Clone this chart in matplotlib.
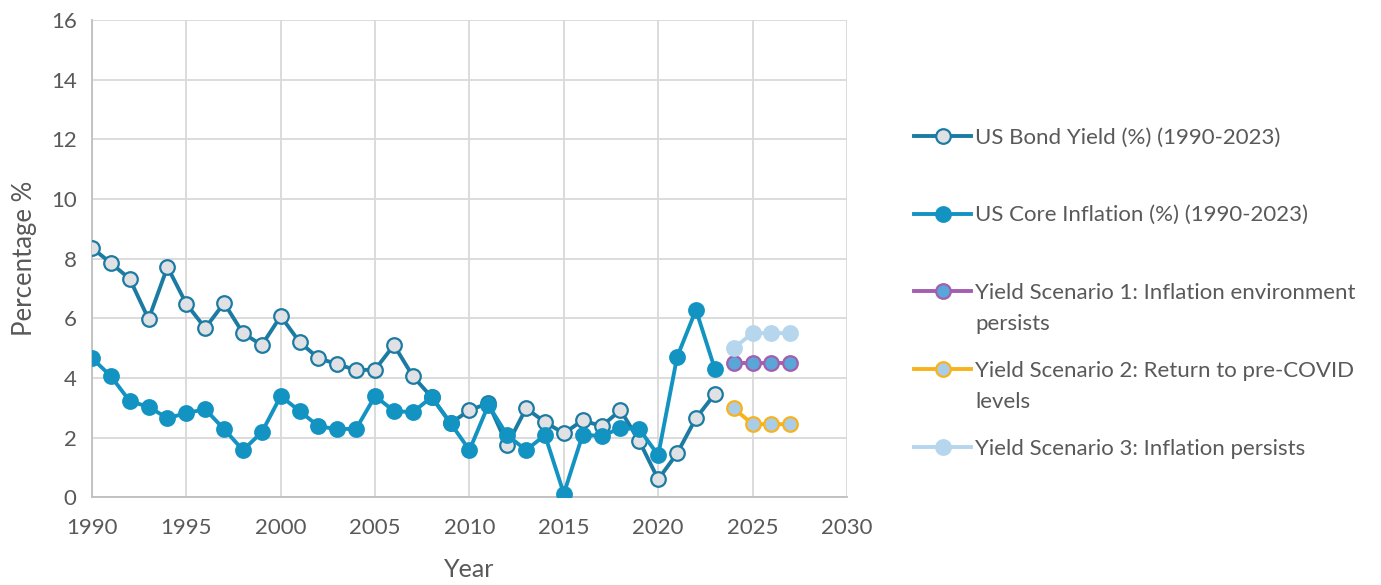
import numpy as np
import matplotlib
matplotlib.use('Agg')
import matplotlib.pyplot as plt

plt.rcParams['font.family'] = ['Lato', 'DejaVu Sans']

years = list(range(1990, 2024))
bond_yield = [8.36, 7.85, 7.32, 5.97, 7.72, 6.48, 5.67, 6.51, 5.50, 5.10,
              6.07, 5.20, 4.66, 4.46, 4.26, 4.28, 5.10, 4.06, 3.35, 2.48,
              2.92, 3.15, 1.75, 2.98, 2.52, 2.14, 2.58, 2.38, 2.92, 1.88,
              0.60, 1.47, 2.65, 3.46]
core_inflation = [4.66, 4.06, 3.22, 3.03, 2.65, 2.82, 2.95, 2.28, 1.58, 2.18,
                  3.39, 2.89, 2.38, 2.28, 2.30, 3.39, 2.89, 2.85, 3.36, 2.48,
                  1.58, 3.09, 2.08, 1.58, 2.08, 0.12, 2.10, 2.05, 2.32, 2.28,
                  1.41, 4.70, 6.28, 4.30]

scen_years = [2024, 2025, 2026, 2027]
scenario1 = [4.5, 4.5, 4.5, 4.5]
scenario2 = [2.98, 2.45, 2.45, 2.45]
scenario3 = [5.0, 5.5, 5.5, 5.5]

labels = ['US Bond Yield (%) (1990-2023)',
          'US Core Inflation (%) (1990-2023)',
          'Yield Scenario 1: Inflation environment',
          'Yield Scenario 2: Return to pre-COVID',
          'Yield Scenario 3: Inflation persists']
label_tails = ['', '', 'persists', 'levels', '']

txt = '#595959'
fig = plt.figure(figsize=(13.81, 5.85), dpi=100)
ax = fig.add_axes([0.0666, 0.150, 0.5467, 0.816])

lw = 2.8
ms = 10.5
h1, = ax.plot(years, bond_yield, color='#1b7ba2', lw=lw, marker='o', ms=ms,
              mfc='#dfe1e4', mec='#1b7ba2', mew=1.6, zorder=3)
h2, = ax.plot(years, core_inflation, color='#1393c2', lw=lw, marker='o', ms=ms,
              mfc='#1393c2', mec='#1393c2', mew=1.6, zorder=4)
h3, = ax.plot(scen_years, scenario1, color='#a25fae', lw=lw, marker='o', ms=ms,
              mfc='#5aa6d8', mec='#a25fae', mew=1.6, zorder=3)
h4, = ax.plot(scen_years, scenario2, color='#f8b31c', lw=lw, marker='o', ms=ms,
              mfc='#a9cde8', mec='#f8b31c', mew=1.6, zorder=3)
h5, = ax.plot(scen_years, scenario3, color='#b5d6ec', lw=lw, marker='o', ms=ms,
              mfc='#b5d6ec', mec='#b5d6ec', mew=1.6, zorder=3)

ax.set_xlim(1990, 2030)
ax.set_ylim(0, 16)
ax.set_xticks(np.arange(1990, 2031, 5))
ax.set_yticks(np.arange(0, 17, 2))
ax.grid(True, color='#d9d9d9', lw=1.3)
ax.set_axisbelow(True)
for s in ['top', 'right']:
    ax.spines[s].set_visible(False)
for s in ['left', 'bottom']:
    ax.spines[s].set_color('#bfbfbf')
    ax.spines[s].set_linewidth(1.3)
ax.tick_params(length=0, labelsize=16, colors=txt)
ax.tick_params(axis='x', pad=15)
ax.tick_params(axis='y', pad=11)
ax.set_xlabel('Year', fontsize=18, color=txt, labelpad=14)
ax.set_ylabel('Percentage %', fontsize=18.5, color=txt, labelpad=10)

leg = fig.legend([h1, h2, h3, h4, h5], labels, loc='upper left',
                 bbox_to_anchor=(0.662, 0.782), frameon=False, fontsize=16,
                 labelcolor=txt, handlelength=2.57, handletextpad=0.18,
                 labelspacing=2.6, borderpad=0, borderaxespad=0)

fig.canvas.draw()
renderer = fig.canvas.get_renderer()
inv = fig.transFigure.inverted()
for t, tail in zip(leg.get_texts(), label_tails):
    if tail:
        bb = t.get_window_extent(renderer)
        x0, y0 = inv.transform((bb.x0, bb.y0 - 11))
        fig.text(x0, y0, tail, fontsize=16, color=txt, ha='left', va='top')

fig.savefig('out.png', dpi=100)
